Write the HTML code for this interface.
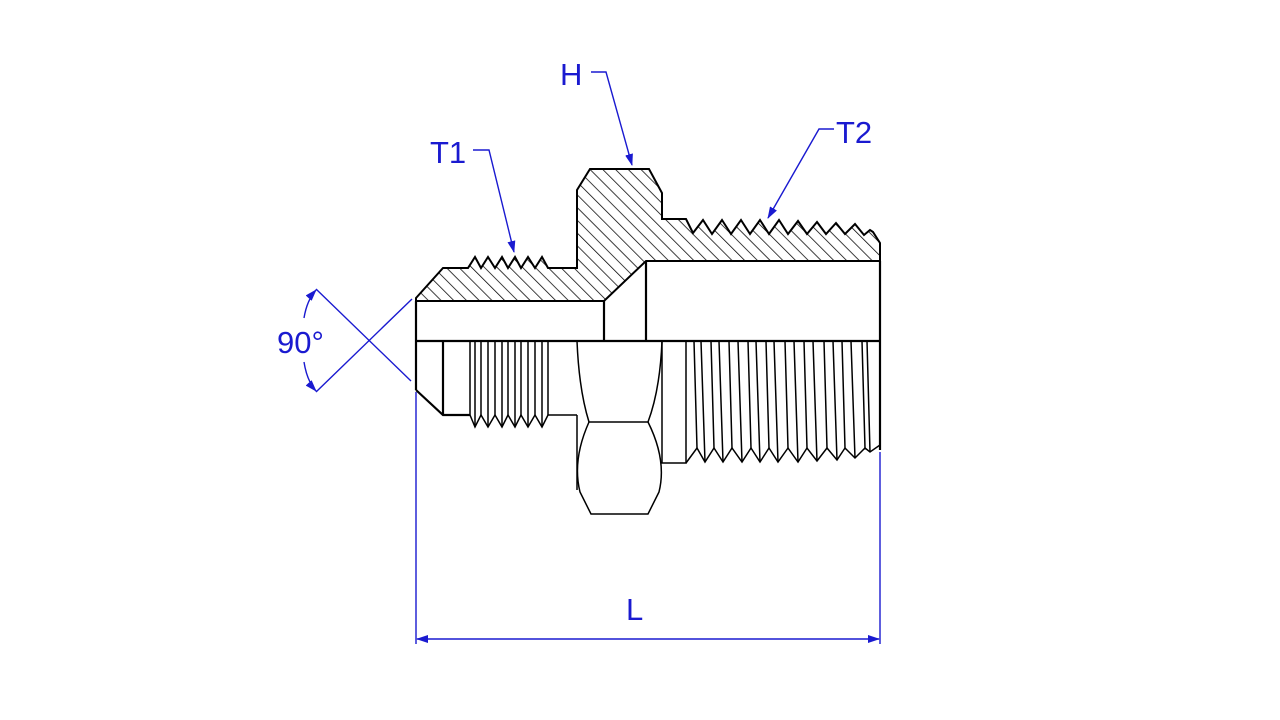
<!DOCTYPE html>
<html><head><meta charset="utf-8"><style>html,body{margin:0;padding:0;background:#fff}svg{display:block}</style></head>
<body>
<svg width="1280" height="720" viewBox="0 0 1280 720" xmlns="http://www.w3.org/2000/svg">
<defs>
<pattern id="h" patternUnits="userSpaceOnUse" width="9" height="9" patternTransform="rotate(-45)">
<line x1="0" y1="0" x2="0" y2="9" stroke="#000" stroke-width="1.5"/>
</pattern>
<marker id="a" markerWidth="12" markerHeight="8" refX="11" refY="4" orient="auto" markerUnits="userSpaceOnUse">
<path d="M0,0 L12,4 L0,8 Z" fill="#1a1ad0"/>
</marker>
</defs>
<rect width="1280" height="720" fill="#fff"/>
<path d="M416,298 L443,268 L468,268 L475,257 L481,268 L488,257 L495,268 L502,257 L508,268 L515,257 L521,268 L528,257 L535,268 L542,257 L548,268 L577,268 L577,190 L590,169 L649,169 L662,193 L662,219 L686,219 L693,233 L703,220 L712,234 L722,220 L731,234 L741,220 L750,234 L760,220 L769,234 L779,220 L788,234 L798,221 L807,234 L817,222 L826,234 L836,223 L845,234 L855,224 L864,235 L870,230 L873,232 L880,243 L880,261 L646,261 L604,301 L416,301 Z" fill="url(#h)" stroke="#000" stroke-width="2"/>
<g stroke="#000" stroke-width="2.2" fill="none">
<line x1="416" y1="301" x2="416" y2="390"/>
<line x1="604" y1="301" x2="604" y2="341"/>
<line x1="646" y1="261" x2="646" y2="341"/>
<line x1="880" y1="261" x2="880" y2="450"/>
<line x1="416" y1="341" x2="880" y2="341"/>
<path d="M416,390 L443,415 L470,415"/>
<line x1="443" y1="341" x2="443" y2="415"/>
</g>
<g stroke="#000" stroke-width="1.5" fill="none">
<path d="M470,415 L475,427 L481,415 L488,427 L495,415 L502,427 L508,415 L515,427 L521,415 L528,427 L535,415 L542,427 L548,415 L577,415"/>
<path d="M470,341V415 M475,341V427 M481,341V415 M488,341V427 M495,341V415 M502,341V427 M508,341V415 M515,341V427 M521,341V415 M528,341V427 M535,341V415 M542,341V427 M548,341V415"/>
<path d="M577,341 Q579,390 589,422 M662,341 Q660,390 648,422 M589,422 L648,422"/>
<path d="M589,422 Q572,460 580,492 L591,514 L648,514 L659,492 Q667,460 648,422"/>
<line x1="577" y1="415" x2="577" y2="490"/>
<path d="M662,341 L662,463 L686,463 L686,341"/>
<path d="M686,463 L697,448 L705,462 L714,448 L723,462 L732,448 L742,462 L751,448 L760,462 L769,448 L778,462 L788,448 L798,462 L807,448 L817,461 L827,448 L837,460 L845,448 L855,458 L865,448 L870,452 L880,445"/>
<path d="M694,341L697,448 M701,341L705,462 M711,341L714,448 M719,341L723,462 M729,341L732,448 M738,341L742,462 M748,341L751,448 M756,341L760,462 M766,341L769,448 M774,341L778,462 M785,341L788,448 M794,341L798,462 M804,341L807,448 M813,341L817,461 M824,341L827,448 M833,341L837,460 M842,341L845,448 M851,341L855,458 M862,341L865,448 M867,341L870,452"/>
</g>
<g stroke="#1a1ad0" stroke-width="1.4" fill="none">
<line x1="416" y1="392" x2="416" y2="644"/>
<line x1="880" y1="452" x2="880" y2="644"/>
<line x1="440" y1="639" x2="417" y2="639" marker-end="url(#a)"/>
<line x1="440" y1="639" x2="879" y2="639" marker-end="url(#a)"/>
<line x1="316" y1="289" x2="411" y2="381"/>
<line x1="316" y1="392" x2="412" y2="299"/>
<path d="M304,318 Q307,300 316,290" marker-end="url(#a)"/>
<path d="M304,362 Q307,381 316,391" marker-end="url(#a)"/>
<path d="M591,72 L606,72 L632,165" marker-end="url(#a)"/>
<path d="M473,150 L489,150 L514,252" marker-end="url(#a)"/>
<path d="M834,129 L819,129 L768,218" marker-end="url(#a)"/>
</g>
<g fill="#1a1ad0" font-family="Liberation Sans, sans-serif" font-size="31">
<text x="560" y="85">H</text>
<text x="430" y="163">T1</text>
<text x="836" y="143">T2</text>
<text x="626" y="620">L</text>
<text x="277" y="353">90°</text>
</g>
</svg>
</body></html>
